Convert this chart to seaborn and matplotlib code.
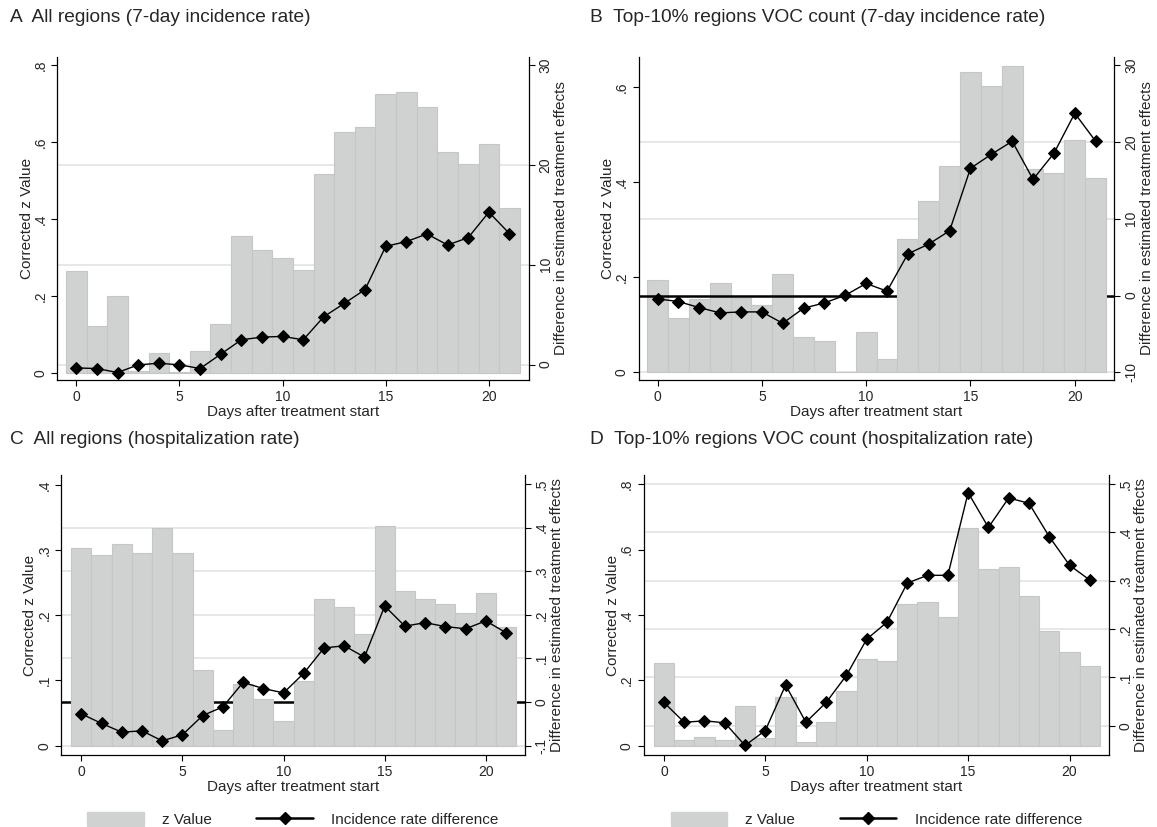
import matplotlib
matplotlib.use("Agg")
import matplotlib.pyplot as plt
import matplotlib.transforms as mtransforms
from matplotlib.lines import Line2D
from matplotlib.patches import Patch
import pandas as pd
import seaborn as sns

# ---------------- data ----------------
days = list(range(22))

a_z = [0.265, 0.122, 0.199, 0.004, 0.051, 0.003, 0.056, 0.127, 0.356, 0.318, 0.299,
       0.268, 0.518, 0.625, 0.638, 0.724, 0.729, 0.690, 0.573, 0.544, 0.594, 0.429]
a_diff = [-0.34, -0.40, -0.80, -0.03, 0.13, -0.03, -0.40, 1.04, 2.48, 2.75, 2.82,
          2.48, 4.80, 6.14, 7.52, 11.85, 12.32, 13.09, 11.98, 12.72, 15.27, 13.12]

b_z = [0.194, 0.114, 0.154, 0.189, 0.156, 0.142, 0.206, 0.075, 0.066, 0.001, 0.084,
       0.027, 0.281, 0.361, 0.434, 0.632, 0.603, 0.645, 0.427, 0.419, 0.489, 0.409]
b_diff = [-0.43, -0.78, -1.57, -2.26, -2.13, -2.13, -3.61, -1.65, -0.96, 0.04, 1.57,
          0.57, 5.43, 6.70, 8.43, 16.57, 18.39, 20.09, 15.13, 18.52, 23.74, 20.09]

c_z = [0.303, 0.292, 0.309, 0.295, 0.334, 0.295, 0.116, 0.024, 0.095, 0.072, 0.038,
       0.099, 0.225, 0.212, 0.171, 0.337, 0.237, 0.225, 0.217, 0.203, 0.234, 0.182]
c_diff = [-0.027, -0.049, -0.069, -0.066, -0.089, -0.075, -0.031, -0.011, 0.045, 0.031, 0.021,
          0.066, 0.124, 0.129, 0.103, 0.220, 0.174, 0.182, 0.173, 0.168, 0.186, 0.159]

d_z = [0.253, 0.018, 0.027, 0.016, 0.121, 0.023, 0.149, 0.010, 0.072, 0.167, 0.265,
       0.259, 0.434, 0.439, 0.394, 0.666, 0.540, 0.547, 0.458, 0.351, 0.287, 0.244]
d_diff = [0.048, 0.007, 0.010, 0.006, -0.041, -0.010, 0.084, 0.007, 0.048, 0.104, 0.179,
          0.214, 0.295, 0.311, 0.311, 0.482, 0.410, 0.471, 0.460, 0.391, 0.332, 0.301]

titles = ["A  All regions (7-day incidence rate)",
          "B  Top-10% regions VOC count (7-day incidence rate)",
          "C  All regions (hospitalization rate)",
          "D  Top-10% regions VOC count (hospitalization rate)"]

a_yticks = [0, 0.2, 0.4, 0.6, 0.8]
a_yticklabels = ["0", ".2", ".4", ".6", ".8"]
a_y2ticks = [0, 10, 20, 30]
a_y2ticklabels = ["0", "10", "20", "30"]

b_yticks = [0, 0.2, 0.4, 0.6]
b_yticklabels = ["0", ".2", ".4", ".6"]
b_y2ticks = [-10, 0, 10, 20, 30]
b_y2ticklabels = ["-10", "0", "10", "20", "30"]

c_yticks = [0, 0.1, 0.2, 0.3, 0.4]
c_yticklabels = ["0", ".1", ".2", ".3", ".4"]
c_y2ticks = [-0.1, 0, 0.1, 0.2, 0.3, 0.4, 0.5]
c_y2ticklabels = ["-.1", "0", ".1", ".2", ".3", ".4", ".5"]

d_yticks = [0, 0.2, 0.4, 0.6, 0.8]
d_yticklabels = ["0", ".2", ".4", ".6", ".8"]
d_y2ticks = [0, 0.1, 0.2, 0.3, 0.4, 0.5]
d_y2ticklabels = ["0", ".1", ".2", ".3", ".4", ".5"]

xticks = [0, 5, 10, 15, 20]

xlabel = "Days after treatment start"
ylabel = "Corrected z Value"
y2label = "Difference in estimated treatment effects"
legend_labels = ["z Value", "Incidence rate difference"]

# ---------------- style ----------------
sns.set_theme(style="white")
plt.rcParams["font.family"] = ["Liberation Sans", "DejaVu Sans"]

BAR_FACE = "#d0d2d1"
BAR_EDGE = "#c5c7c6"
GRID_COL = "#e7e7e7"

fig = plt.figure(figsize=(11.57, 8.27), dpi=100)
fig.patch.set_facecolor("white")

W, H = 1157.0, 827.0

panels = [
    dict(rect=[0.0496, 0.5405, 0.4075, 0.3909], tpos=(10, 18), z=a_z, diff=a_diff,
         xlim=(-0.92, 21.94), ylim=(-0.019, 0.822), y2lim=(-1.55, 30.85),
         yt=a_yticks, ytl=a_yticklabels, y2t=a_y2ticks, y2tl=a_y2ticklabels,
         grid=[0, 10, 20], zero=False, zero_front_until=None, legend=False),
    dict(rect=[0.5519, 0.5405, 0.4113, 0.3909], tpos=(590, 18), z=b_z, diff=b_diff,
         xlim=(-0.91, 21.9), ylim=(-0.0162, 0.6644), y2lim=(-11.0, 31.1),
         yt=b_yticks, ytl=b_yticklabels, y2t=b_y2ticks, y2tl=b_y2ticklabels,
         grid=[-10, 10, 20], zero=True, zero_front_until=11, legend=False),
    dict(rect=[0.0528, 0.0871, 0.4010, 0.3386], tpos=(10, 440), z=c_z, diff=c_diff,
         xlim=(-1.0, 21.94), ylim=(-0.0143, 0.4154), y2lim=(-0.1213, 0.5206),
         yt=c_yticks, ytl=c_yticklabels, y2t=c_y2ticks, y2tl=c_y2ticklabels,
         grid=[-0.1, 0.1, 0.2, 0.3, 0.4], zero=True, zero_front_until=-1, legend=True),
    dict(rect=[0.5563, 0.0871, 0.4021, 0.3386], tpos=(590, 440), z=d_z, diff=d_diff,
         xlim=(-1.0, 21.94), ylim=(-0.0285, 0.8286), y2lim=(-0.0606, 0.5186),
         yt=d_yticks, ytl=d_yticklabels, y2t=d_y2ticks, y2tl=d_y2ticklabels,
         grid=[0, 0.1, 0.2, 0.3, 0.4, 0.5], zero=False, zero_front_until=None, legend=True),
]

TICK_FS = 10
LABEL_FS = 11
TITLE_FS = 13.8

for title, p in zip(titles, panels):
    ax = fig.add_axes(p["rect"])
    ax2 = ax.twinx()
    df = pd.DataFrame({"day": days, "z": p["z"], "diff": p["diff"]})

    sns.barplot(data=df, x="day", y="z", native_scale=True, width=1.0, ax=ax,
                color=BAR_FACE, saturation=1, edgecolor=BAR_EDGE, linewidth=0.8,
                errorbar=None)
    for patch, d in zip(ax.patches, days):
        if p["zero_front_until"] is not None and d > p["zero_front_until"]:
            patch.set_zorder(2)
        else:
            patch.set_zorder(1)

    sns.lineplot(data=df, x="day", y="diff", ax=ax2, color="black", linewidth=1.0,
                 marker="D", markersize=6.3, markeredgecolor="black", legend=False)

    ax.set_xlim(*p["xlim"])
    ax2.set_xlim(*p["xlim"])
    ax.set_ylim(*p["ylim"])
    ax2.set_ylim(*p["y2lim"])

    trans = mtransforms.blended_transform_factory(ax.transAxes, ax2.transData)
    for g in p["grid"]:
        ax.plot([0, 1], [g, g], transform=trans, color=GRID_COL, linewidth=1.4,
                zorder=0.5, solid_capstyle="butt")
    if p["zero"]:
        ax.plot([0, 1], [0, 0], transform=trans, color="black", linewidth=1.8,
                zorder=1.5, solid_capstyle="butt")
    ax.set_xlim(*p["xlim"])
    ax.set_ylim(*p["ylim"])

    ax.set_xticks(xticks)
    ax.set_xticklabels([str(t) for t in xticks])
    ax.set_yticks(p["yt"])
    ax.set_yticklabels(p["ytl"])
    ax2.set_yticks(p["y2t"])
    ax2.set_yticklabels(p["y2tl"])

    ax.set_xlabel(xlabel, fontsize=LABEL_FS, labelpad=1)
    ax.set_ylabel(ylabel, fontsize=LABEL_FS, labelpad=0)
    ax2.set_ylabel(y2label, fontsize=LABEL_FS, rotation=90, labelpad=1)

    ax.tick_params(axis="both", direction="out", length=4, width=0.8, color="black",
                   labelsize=TICK_FS, pad=3, left=True, bottom=True)
    ax.tick_params(axis="y", labelrotation=90)
    for lbl in ax.get_yticklabels():
        lbl.set_va("center")
    ax2.tick_params(axis="y", direction="out", length=4, width=0.8, color="black",
                    labelsize=TICK_FS, pad=3, right=True, labelrotation=90)
    for lbl in ax2.get_yticklabels():
        lbl.set_va("center")

    for s in ["top", "right"]:
        ax.spines[s].set_visible(False)
    for s in ["top", "left", "bottom"]:
        ax2.spines[s].set_visible(False)
    for sp in [ax.spines["left"], ax.spines["bottom"], ax2.spines["right"]]:
        sp.set_linewidth(0.9)
        sp.set_color("black")
    ax2.grid(False)
    ax.grid(False)

    fig.text(p["tpos"][0] / W, 1 - p["tpos"][1] / H, title, fontsize=TITLE_FS,
             ha="left", va="center")

    if p["legend"]:
        handles = [Patch(facecolor=BAR_FACE, edgecolor=BAR_FACE),
                   Line2D([], [], color="black", linewidth=1.8, marker="D",
                          markersize=6.3, markerfacecolor="black")]
        ax.legend(handles, legend_labels, loc="center", bbox_to_anchor=(0.5, -0.23),
                  ncol=2, frameon=False, fontsize=LABEL_FS, handlelength=3.7,
                  handleheight=1.0, handletextpad=1.2, columnspacing=2.9,
                  borderaxespad=0)

fig.savefig("out.png", dpi=100, facecolor="white")
